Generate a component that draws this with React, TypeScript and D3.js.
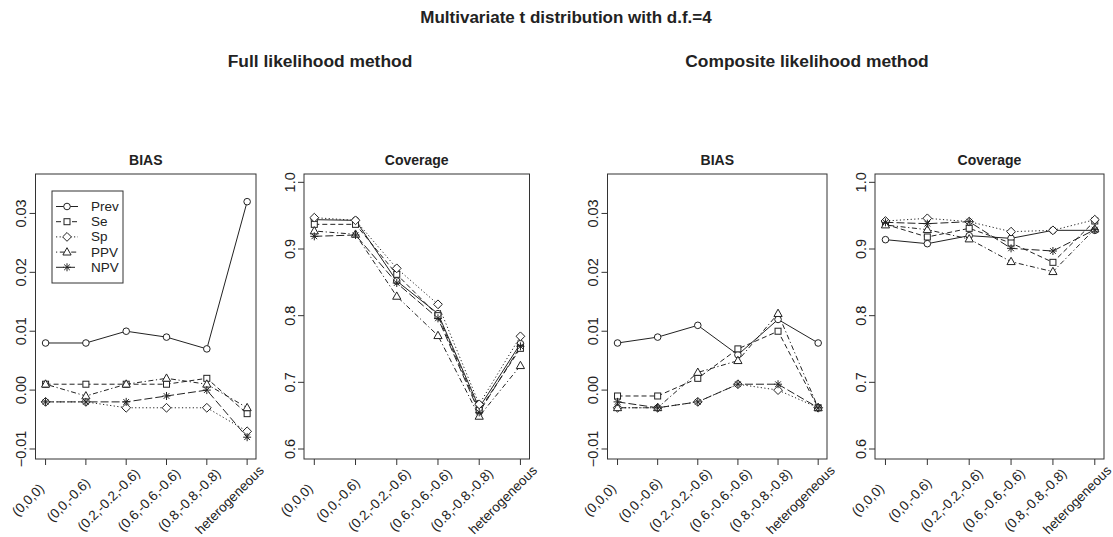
import React from "react";
import * as d3 from "d3";

// scenario labels on the x axis
const categories = [
  "(0,0,0)",
  "(0,0,-0.6)",
  "(0.2,-0.2,-0.6)",
  "(0.6,-0.6,-0.6)",
  "(0.8,-0.8,-0.8)",
  "heterogeneous",
];
const seriesNames = ["Prev", "Se", "Sp", "PPV", "NPV"];

// one row per series: Prev, Se, Sp, PPV, NPV
const fullBias = [
  [0.008, 0.008, 0.01, 0.009, 0.007, 0.032],
  [0.001, 0.001, 0.001, 0.001, 0.002, -0.004],
  [-0.002, -0.002, -0.003, -0.003, -0.003, -0.007],
  [0.001, -0.001, 0.001, 0.002, 0.001, -0.003],
  [-0.002, -0.002, -0.002, -0.001, 0.0, -0.008],
];
const fullCoverage = [
  [0.944, 0.943, 0.852, 0.803, 0.662, 0.758],
  [0.937, 0.937, 0.862, 0.8, 0.658, 0.751],
  [0.947, 0.943, 0.871, 0.817, 0.667, 0.769],
  [0.927, 0.922, 0.829, 0.77, 0.649, 0.725],
  [0.919, 0.921, 0.849, 0.796, 0.655, 0.754],
];
const compBias = [
  [0.008, 0.009, 0.011, 0.006, 0.012, 0.008],
  [-0.001, -0.001, 0.002, 0.007, 0.01, -0.003],
  [-0.003, -0.003, -0.002, 0.001, 0.0, -0.003],
  [-0.003, -0.003, 0.003, 0.005, 0.013, -0.003],
  [-0.002, -0.003, -0.002, 0.001, 0.001, -0.003],
];
const compCoverage = [
  [0.914, 0.908, 0.92, 0.916, 0.928, 0.928],
  [0.937, 0.918, 0.931, 0.909, 0.88, 0.942],
  [0.942, 0.946, 0.941, 0.926, 0.928, 0.944],
  [0.936, 0.929, 0.915, 0.881, 0.866, 0.93],
  [0.94, 0.938, 0.941, 0.901, 0.897, 0.929],
];

const biasTicks = [-0.01, 0, 0.01, 0.02, 0.03];
const coverageTicks = [0.6, 0.7, 0.8, 0.9, 1.0];

const dashes = ["none", "5,3", "1.2,2.4", "1.2,2.6,5,2.6", "8,3"];
const INK = "#222";
const FONT = "'Liberation Sans', Arial, Helvetica, sans-serif";

const Symbol = ({ idx, x, y }) => {
  const s = { fill: "white", stroke: INK, strokeWidth: 1 };
  if (idx === 0) return <circle cx={x} cy={y} r={3.3} {...s} />;
  if (idx === 1) return <rect x={x - 3} y={y - 3} width={6} height={6} {...s} />;
  if (idx === 2)
    return <path d={`M${x},${y - 4.4}L${x + 4.4},${y}L${x},${y + 4.4}L${x - 4.4},${y}Z`} {...s} />;
  if (idx === 3)
    return <path d={`M${x},${y - 4.4}L${x + 4.1},${y + 2.9}L${x - 4.1},${y + 2.9}Z`} {...s} />;
  const r = 4;
  const d = r * 0.7071;
  return (
    <path
      d={`M${x - r},${y}H${x + r}M${x},${y - r}V${y + r}M${x - d},${y - d}L${x + d},${y + d}M${x - d},${y + d}L${x + d},${y - d}`}
      stroke={INK}
      strokeWidth={1}
    />
  );
};

const Panel = ({ left, right, title, data, domain, ticks, fmt, legend }) => {
  const top = 174;
  const bottom = 459;
  const x = d3.scaleLinear().domain([0.75, 6.22]).range([left, right]);
  const y = d3.scaleLinear().domain(domain).range([bottom, top]);
  const line = d3
    .line<number>()
    .x((d, i) => x(i + 1))
    .y((d) => y(d));

  return (
    <g>
      <text x={(left + right) / 2} y={165} textAnchor="middle" fontSize={14} fontWeight="bold" fill={INK}>
        {title}
      </text>
      <rect x={left} y={top} width={right - left} height={bottom - top} fill="none" stroke="#333" strokeWidth={1} />
      {ticks.map((t) => (
        <g key={t}>
          <line x1={left - 6} x2={left} y1={y(t)} y2={y(t)} stroke="#333" />
          <text
            transform={`translate(${left - 9.5},${y(t)}) rotate(-90)`}
            textAnchor="middle"
            fontSize={14.5}
            fill={INK}
          >
            {fmt(t)}
          </text>
        </g>
      ))}
      {categories.map((c, i) => (
        <g key={c}>
          <line x1={x(i + 1)} x2={x(i + 1)} y1={bottom} y2={bottom + 6} stroke="#333" />
          <text
            transform={`translate(${x(i + 1) - 17.5},${500}) rotate(-45)`}
            textAnchor="middle"
            dominantBaseline="central"
            fontSize={13.5}
            fill={INK}
          >
            {c}
          </text>
        </g>
      ))}
      {data.map((row, k) => (
        <path key={k} d={line(row)} fill="none" stroke={INK} strokeWidth={1} strokeDasharray={dashes[k]} />
      ))}
      {data.map((row, k) =>
        row.map((v, i) => <Symbol key={`${k}-${i}`} idx={k} x={x(i + 1)} y={y(v)} />)
      )}
      {legend && (
        <g>
          <rect x={52} y={191} width={71} height={92} fill="white" stroke="#333" />
          {seriesNames.map((n, k) => {
            const ly = 206.5 + k * 15.2;
            return (
              <g key={n}>
                <line x1={56} x2={78} y1={ly} y2={ly} stroke={INK} strokeDasharray={dashes[k]} />
                <Symbol idx={k} x={67} y={ly} />
                <text x={91} y={ly + 4.5} fontSize={13.5} fill={INK}>
                  {n}
                </text>
              </g>
            );
          })}
        </g>
      )}
    </g>
  );
};

const fmtBias = d3.format(".2f");
const fmtCov = d3.format(".1f");

export default function App() {
  return (
    <svg width={1113} height={537} style={{ position: "absolute", left: 0, top: 0, background: "white" }} fontFamily={FONT}>
      <rect width={1113} height={537} fill="white" />
      <text x={566} y={23} textAnchor="middle" fontSize={17} fontWeight="bold" fill={INK}>
        Multivariate t distribution with d.f.=4
      </text>
      <text x={320} y={67} textAnchor="middle" fontSize={17.4} fontWeight="bold" fill={INK}>
        Full likelihood method
      </text>
      <text x={807} y={67} textAnchor="middle" fontSize={17.4} fontWeight="bold" fill={INK}>
        Composite likelihood method
      </text>
      <Panel left={35.5} right={256} title="BIAS" data={fullBias} domain={[-0.0117, 0.0367]} ticks={biasTicks} fmt={fmtBias} legend />
      <Panel left={304} right={529.5} title="Coverage" data={fullCoverage} domain={[0.585, 1.0125]} ticks={coverageTicks} fmt={fmtCov} />
      <Panel left={607.5} right={827} title="BIAS" data={compBias} domain={[-0.0117, 0.0367]} ticks={biasTicks} fmt={fmtBias} />
      <Panel left={875} right={1104} title="Coverage" data={compCoverage} domain={[0.585, 1.0125]} ticks={coverageTicks} fmt={fmtCov} />
    </svg>
  );
}
